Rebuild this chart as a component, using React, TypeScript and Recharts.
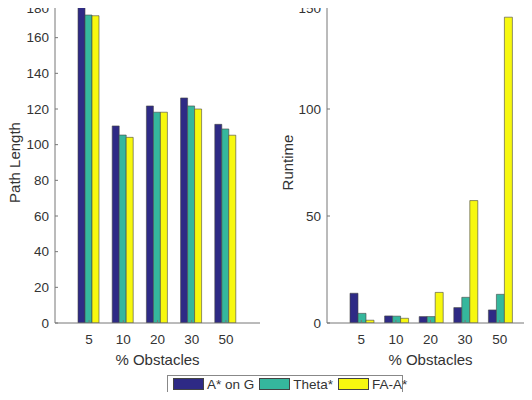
import { BarChart, Bar, XAxis, YAxis, Legend, Label } from 'recharts'

const obstacles = ['5', '10', '20', '30', '50']
const seriesNames = ['A* on G', 'Theta*', 'FA-A*']
const seriesColors = ['#2e2a85', '#35b79d', '#f7f80f']

// path length per % obstacles
const pathAStar = [182, 110.5, 121.7, 126.2, 111.4]
const pathTheta = [172.7, 105.4, 118.2, 121.7, 108.8]
const pathFA = [172.3, 104.1, 118.2, 120.0, 105.3]

// runtime per % obstacles
const runAStar = [13.9, 3.3, 3.0, 7.2, 6.1]
const runTheta = [4.5, 3.2, 3.0, 12.0, 13.4]
const runFA = [1.3, 2.2, 14.3, 57.2, 142.9]

const pathTicks = [0, 20, 40, 60, 80, 100, 120, 140, 160, 180]
const runTicks = [0, 50, 100, 150]

const FONT = '"Liberation Sans", Arial, sans-serif'
const AXIS = '#777'
const TEXT = '#333'

const build = (a: number[], t: number[], f: number[]) =>
  obstacles.map((pct, i) => ({ pct, a: a[i], t: t[i], f: f[i] }))

const pathData = build(pathAStar, pathTheta, pathFA)
const runData = build(runAStar, runTheta, runFA)

// keep legend in series order (recharts sorts its payload by name)
const renderLegend = () => (
  <div style={{ display: 'flex', alignItems: 'center', height: 18, border: '1px solid #888', boxSizing: 'border-box', padding: '0 4px', fontSize: 13.5, color: TEXT, background: '#fff', whiteSpace: 'nowrap' }}>
    {seriesNames.map((name, i) => (
      <span key={name} style={{ display: 'flex', alignItems: 'center', marginLeft: i === 0 ? 1 : 5 }}>
        <span style={{ display: 'inline-block', width: 29, height: 10, background: seriesColors[i], border: '1px solid #444' }} />
        <span style={{ marginLeft: 3 }}>{name}</span>
      </span>
    ))}
  </div>
)

function Panel({ data, ticks, domain, ylabel, yWidth, labelOffset, width, marginRight, withLegend }: {
  data: any[]; ticks: number[]; domain: [number, number]; ylabel: string; yWidth: number; labelOffset: number; width: number; marginRight: number; withLegend?: boolean
}) {
  return (
    <BarChart width={width} height={400} data={data} margin={{ top: 2, right: marginRight, bottom: 0, left: 0 }} barCategoryGap={6} barGap={0}>
      <XAxis xAxisId="b" dataKey="pct" padding={{ left: 17, right: 17 }} height={77} interval={0} tickSize={-3} tickMargin={14} stroke={AXIS} tick={{ fill: TEXT, fontSize: 13.5 }}>
        <Label value="% Obstacles" position="insideTop" offset={31} fill={TEXT} fontSize={15} />
      </XAxis>
      <XAxis xAxisId="t" dataKey="pct" orientation="top" padding={{ left: 17, right: 17 }} height={0} interval={0} tickSize={-3} stroke={AXIS} tickFormatter={() => ''} />
      <YAxis yAxisId="l" domain={domain} ticks={ticks} allowDataOverflow width={yWidth} tickSize={-3} tickMargin={9} stroke={AXIS} tick={{ fill: TEXT, fontSize: 13.5 }}>
        <Label value={ylabel} angle={-90} position="insideLeft" offset={labelOffset} fill={TEXT} fontSize={15} style={{ textAnchor: 'middle' }} />
      </YAxis>
      <YAxis yAxisId="r" orientation="right" domain={domain} ticks={ticks} allowDataOverflow width={0} tickSize={-3} stroke={AXIS} tickFormatter={() => ''} />
      {['a', 't', 'f'].map((k, i) => (
        <Bar key={k} xAxisId="b" yAxisId="l" dataKey={k} name={seriesNames[i]} fill={seriesColors[i]} stroke="#444" strokeWidth={0.6} isAnimationActive={false} />
      ))}
      {withLegend && (
        <Legend layout="horizontal" verticalAlign="middle" align="center" content={renderLegend}
          wrapperStyle={{ left: 167, top: 375, width: 236, height: 18 }} />
      )}
    </BarChart>
  )
}

export default function App() {
  return (
    <div style={{ position: 'relative', width: 532, height: 400, margin: -8, overflow: 'hidden', background: '#fff', fontFamily: FONT }}>
      <div style={{ position: 'absolute', left: 270, top: 0 }}>
        <Panel data={runData} ticks={runTicks} domain={[0, 150]} ylabel="Runtime" yWidth={57} labelOffset={18} width={270} marginRight={6} />
      </div>
      <div style={{ position: 'absolute', left: 0, top: 0 }}>
        <Panel data={pathData} ticks={pathTicks} domain={[0, 180]} ylabel="Path Length" yWidth={55} labelOffset={15} width={270} marginRight={10} withLegend />
      </div>
    </div>
  )
}
